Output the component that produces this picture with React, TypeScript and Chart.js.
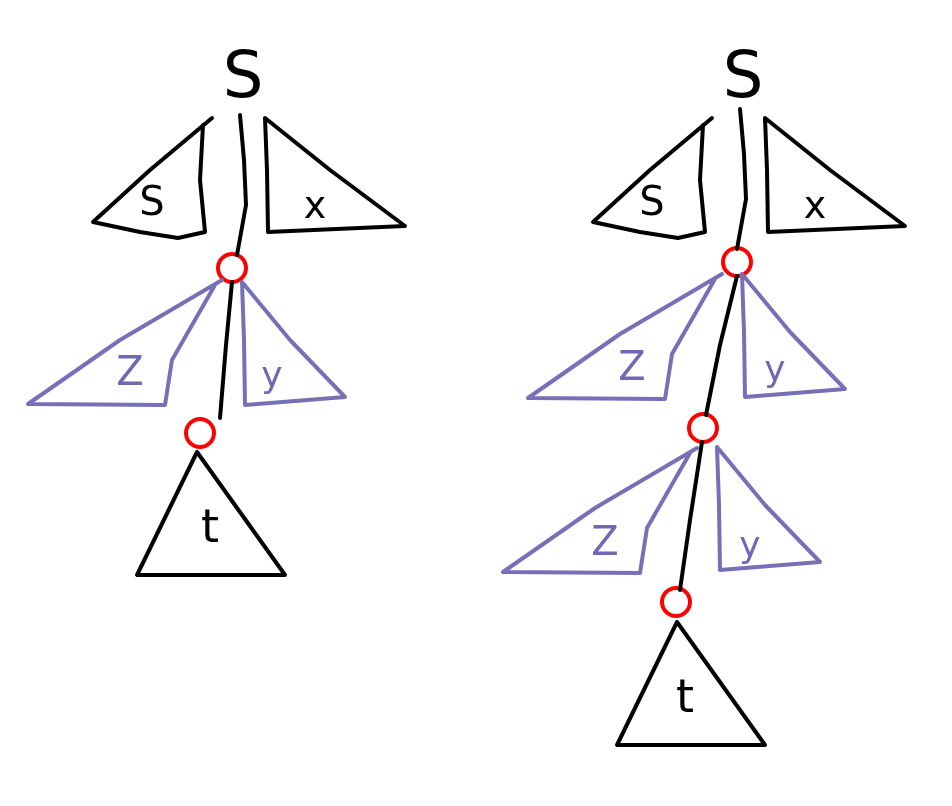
import React, { useEffect, useRef } from "react";
import { Chart, registerables } from "chart.js";
Chart.register(...registerables);

type P = { x: number; y: number };
const pts = (a: number[][], dx = 0, dy = 0): P[] => a.map(([x, y]) => ({ x: x + dx, y: y + dy }));

// black strokes (left tree coordinates; right tree offsets by 500)
const topLeftTri = [[212,118],[150,170],[93,222],[140,232],[178,238],[205,232],[200,180],[203,125]];
const topStem = [[240,115],[244,160],[246,205],[237,255]];
const topRightTri = [[265,118],[267,170],[268,232],[405,226],[330,170],[265,118]];
const purpleLeft = [[222,280],[120,340],[28,404],[165,405],[172,360],[215,285]];
const purpleRight = [[242,282],[244,340],[245,405],[345,397],[290,340],[242,282]];
const stemMid = [[232,282],[226,345],[220,418]];
const stemMidRight = [[737,276],[720,345],[706,415]];
const triT = [[197,452],[137,575],[285,575],[197,452]];
const stemRight2 = [[702,442],[690,520],[680,590]];

const circlesLeft = [[232,268],[200,433]];
const circlesRight = [[737,262],[703,428],[676,602]];

const labels: [string, number, number, number, string][] = [
  ["S", 243, 80, 64, "#000"], ["S", 152, 205, 40, "#000"], ["x", 315, 208, 38, "#000"],
  ["Z", 130, 375, 40, "#6f68b3"], ["y", 272, 378, 36, "#6f68b3"], ["t", 210, 530, 46, "#000"],
  ["S", 743, 80, 64, "#000"], ["S", 652, 205, 40, "#000"], ["x", 815, 208, 38, "#000"],
  ["Z", 632, 370, 40, "#6f68b3"], ["y", 775, 372, 36, "#6f68b3"],
  ["Z", 605, 545, 40, "#6f68b3"], ["y", 750, 548, 36, "#6f68b3"], ["t", 685, 700, 46, "#000"],
];

const BLACK = "#000";
const PURPLE = "#7670b6";
const RED = "#ff0000";

export default function App() {
  const ref = useRef<HTMLCanvasElement>(null);
  useEffect(() => {
    const line = (d: P[], color: string) => ({
      type: "line" as const, data: d, borderColor: color, borderWidth: 4,
      pointRadius: 0, showLine: true, fill: false, tension: 0, borderJoinStyle: "round", borderCapStyle: "round",
    });
    const datasets: any[] = [
      line(pts(topLeftTri), BLACK), line(pts(topStem), BLACK), line(pts(topRightTri), BLACK),
      line(pts(purpleLeft), PURPLE), line(pts(purpleRight), PURPLE), line(pts(stemMid), BLACK),
      line(pts(triT), BLACK),
      line(pts(topLeftTri, 500), BLACK), line(pts(topStem, 500, -6), BLACK), line(pts(topRightTri, 500), BLACK),
      line(pts(purpleLeft, 500, -6), PURPLE), line(pts(purpleRight, 500, -8), PURPLE),
      line(pts(stemMidRight), BLACK),
      line(pts(purpleLeft, 475, 168), PURPLE), line(pts(purpleRight, 475, 165), PURPLE),
      line(pts(stemRight2), BLACK),
      line(pts(triT, 480, 170), BLACK),
      {
        type: "scatter", data: [...pts(circlesLeft), ...pts(circlesRight)],
        pointRadius: 14, pointBorderColor: RED, pointBackgroundColor: "rgba(0,0,0,0)",
        pointBorderWidth: 4, showLine: false,
      },
    ];
    const textPlugin = {
      id: "txt",
      afterDatasetsDraw(c: any) {
        const ctx = c.ctx, xs = c.scales.x, ys = c.scales.y;
        ctx.save();
        ctx.textAlign = "center"; ctx.textBaseline = "middle";
        for (const [t, x, y, s, col] of labels) {
          ctx.font = `${s}px "DejaVu Sans", sans-serif`;
          ctx.fillStyle = col;
          ctx.fillText(t, xs.getPixelForValue(x), ys.getPixelForValue(y));
        }
        ctx.restore();
      },
    };
    const chart = new Chart(ref.current!, {
      type: "scatter",
      data: { datasets },
      options: {
        animation: false, responsive: false, maintainAspectRatio: false,
        layout: { padding: 0, autoPadding: false },
        clip: false as any,
        plugins: { legend: { display: false }, tooltip: { enabled: false } },
        scales: {
          x: { type: "linear", min: 0, max: 952, display: false },
          y: { type: "linear", min: 0, max: 806, reverse: true, display: false },
        },
      },
      plugins: [textPlugin],
    });
    return () => chart.destroy();
  }, []);
  return (
    <div style={{ position: "fixed", left: 0, top: 0, width: 952, height: 806, background: "#fff" }}>
      <canvas ref={ref} width={952} height={806} style={{ width: 952, height: 806 }} />
    </div>
  );
}
